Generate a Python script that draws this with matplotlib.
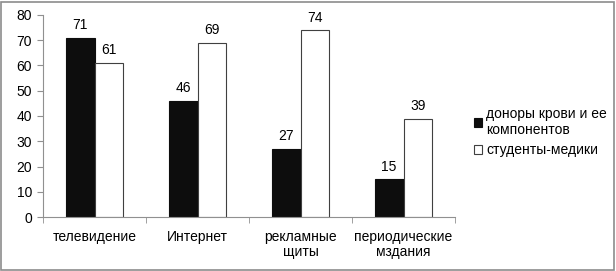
import numpy as np
import matplotlib.pyplot as plt
from matplotlib.patches import Rectangle

categories = ["телевидение", "Интернет", "рекламные\nщиты", "периодические\nмздания"]
donors = [71, 46, 27, 15]
students = [61, 69, 74, 39]
series_names = ["доноры крови и ее\nкомпонентов", "студенты-медики"]

plt.rcParams["font.family"] = ["Liberation Sans", "DejaVu Sans"]
plt.rcParams["font.size"] = 10


def main():
    fig = plt.figure(figsize=(6.16, 2.71), dpi=100)
    ax = fig.add_axes([0.0698, 0.199, 0.669, 0.746])

    x = np.arange(len(categories))
    w = 0.28
    b1 = ax.bar(x - w / 2, donors, w, color="#0d0d0d", edgecolor="#0d0d0d",
                linewidth=0.8, label=series_names[0])
    b2 = ax.bar(x + w / 2, students, w, color="white", edgecolor="#404040",
                linewidth=0.8, label=series_names[1])
    for bars in (b1, b2):
        ax.bar_label(bars, padding=4, fontsize=10)

    ax.set_xlim(-0.5, len(categories) - 0.5)
    ax.set_ylim(0, 80)
    ax.set_yticks(range(0, 81, 10))
    ax.set_xticks(x)
    ax.set_xticklabels(categories, fontsize=10, linespacing=1.1)
    ax.set_xticks(np.arange(-0.5, len(categories), 1), minor=True)
    ax.tick_params(axis="x", which="major", length=0, pad=9)
    ax.tick_params(axis="x", which="minor", length=4, color="#909090", direction="out")
    ax.tick_params(axis="y", length=4, color="#909090", labelsize=10, pad=4)
    for s in ("top", "right"):
        ax.spines[s].set_visible(False)
    for s in ("left", "bottom"):
        ax.spines[s].set_color("#909090")
        ax.spines[s].set_linewidth(0.8)

    ax.legend(loc="center left", bbox_to_anchor=(1.045, 0.42), frameon=False,
              fontsize=10, handlelength=0.6, handleheight=0.6, handletextpad=0.3,
              labelspacing=0.45, borderpad=0, borderaxespad=0)

    fig.patches.append(Rectangle((0.002, 0.004), 0.995, 0.99, transform=fig.transFigure,
                                 fill=False, edgecolor="#8c8c8c", linewidth=1.2))
    fig.savefig("out.png", dpi=100)
    plt.close(fig)


if __name__ == "__main__":
    main()
